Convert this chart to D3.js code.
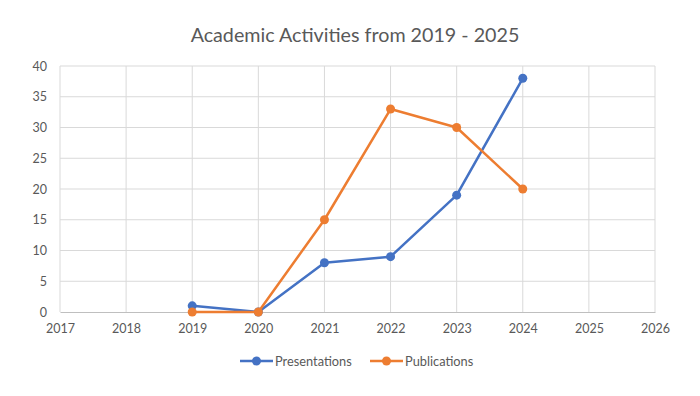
<!DOCTYPE html>
<html>
<head>
<meta charset="utf-8">
<script src="https://cdn.jsdelivr.net/npm/d3@7"></script>
<style>
  body { margin: 0; background: #fff; }
  text { font-family: Lato, "Open Sans", sans-serif; }
</style>
</head>
<body>
<div id="chart"></div>
<script>
const WIDTH = 700;
const HEIGHT = 396;

const years = [2019, 2020, 2021, 2022, 2023, 2024];
const presentations = [1, 0, 8, 9, 19, 38];
const publications = [0, 0, 15, 33, 30, 20];
const seriesNames = ['Presentations', 'Publications'];
const seriesColors = ['#4472C4', '#ED7D31'];
const xTicks = [2017, 2018, 2019, 2020, 2021, 2022, 2023, 2024, 2025, 2026];
const yTicks = [0, 5, 10, 15, 20, 25, 30, 35, 40];

const margin = {top: 66, right: 45, bottom: 84, left: 60};

var svg = d3.select('#chart')
    .append('svg')
    .attr('width', WIDTH)
    .attr('height', HEIGHT);

let x = d3.scaleLinear()
    .domain([2017, 2026])
    .range([margin.left, WIDTH - margin.right]);

let y = d3.scaleLinear()
    .domain([0, 40])
    .range([HEIGHT - margin.bottom, margin.top]);

// title
svg.append('text')
    .attr('x', 355)
    .attr('y', 42)
    .attr('text-anchor', 'middle')
    .attr('font-size', 19.7)
    .attr('fill', '#595959')
    .text('Academic Activities from 2019 - 2025');

// gridlines
svg.append('g')
    .selectAll('line.h')
    .data(yTicks.slice(1))
    .enter()
    .append('line')
    .attr('x1', x(2017))
    .attr('x2', x(2026))
    .attr('y1', d => y(d))
    .attr('y2', d => y(d))
    .attr('stroke', '#d9d9d9');

svg.append('g')
    .selectAll('line.v')
    .data(xTicks)
    .enter()
    .append('line')
    .attr('x1', d => x(d))
    .attr('x2', d => x(d))
    .attr('y1', y(0))
    .attr('y2', y(40))
    .attr('stroke', '#d9d9d9');

// axes
let xAxis = svg.append('g')
    .attr('transform', `translate(0,${y(0)})`)
    .call(d3.axisBottom(x).tickValues(xTicks).tickFormat(d3.format('d')).tickSize(0).tickPadding(12));
xAxis.select('.domain').attr('stroke', '#bfbfbf');

let yAxis = svg.append('g')
    .attr('transform', `translate(${x(2017)},0)`)
    .call(d3.axisLeft(y).tickValues(yTicks).tickSize(0).tickPadding(13));
yAxis.select('.domain').remove();

svg.selectAll('.tick text')
    .attr('font-family', 'Lato, "Open Sans", sans-serif')
    .attr('font-size', 12.5)
    .attr('fill', '#595959');

// series
let series = [presentations, publications];
let line = d3.line()
    .x((d, i) => x(years[i]))
    .y(d => y(d));

series.forEach((values, s) => {
    svg.append('path')
        .datum(values)
        .attr('d', line)
        .attr('fill', 'none')
        .attr('stroke', seriesColors[s])
        .attr('stroke-width', 2.5)
        .attr('stroke-linejoin', 'round');

    svg.append('g')
        .selectAll('circle')
        .data(values)
        .enter()
        .append('circle')
        .attr('cx', (d, i) => x(years[i]))
        .attr('cy', d => y(d))
        .attr('r', 4.5)
        .attr('fill', seriesColors[s]);
});

// legend
let legendX = [240, 370];
seriesNames.forEach((name, s) => {
    let g = svg.append('g').attr('transform', `translate(${legendX[s]},361)`);
    g.append('line')
        .attr('x1', 0).attr('x2', 33)
        .attr('y1', 0).attr('y2', 0)
        .attr('stroke', seriesColors[s])
        .attr('stroke-width', 2.5);
    g.append('circle')
        .attr('cx', 16.5).attr('cy', 0).attr('r', 4.5)
        .attr('fill', seriesColors[s]);
    g.append('text')
        .attr('x', 35).attr('y', 4.5)
        .attr('font-size', 12.8)
        .attr('fill', '#595959')
        .text(name);
});
</script>
</body>
</html>
